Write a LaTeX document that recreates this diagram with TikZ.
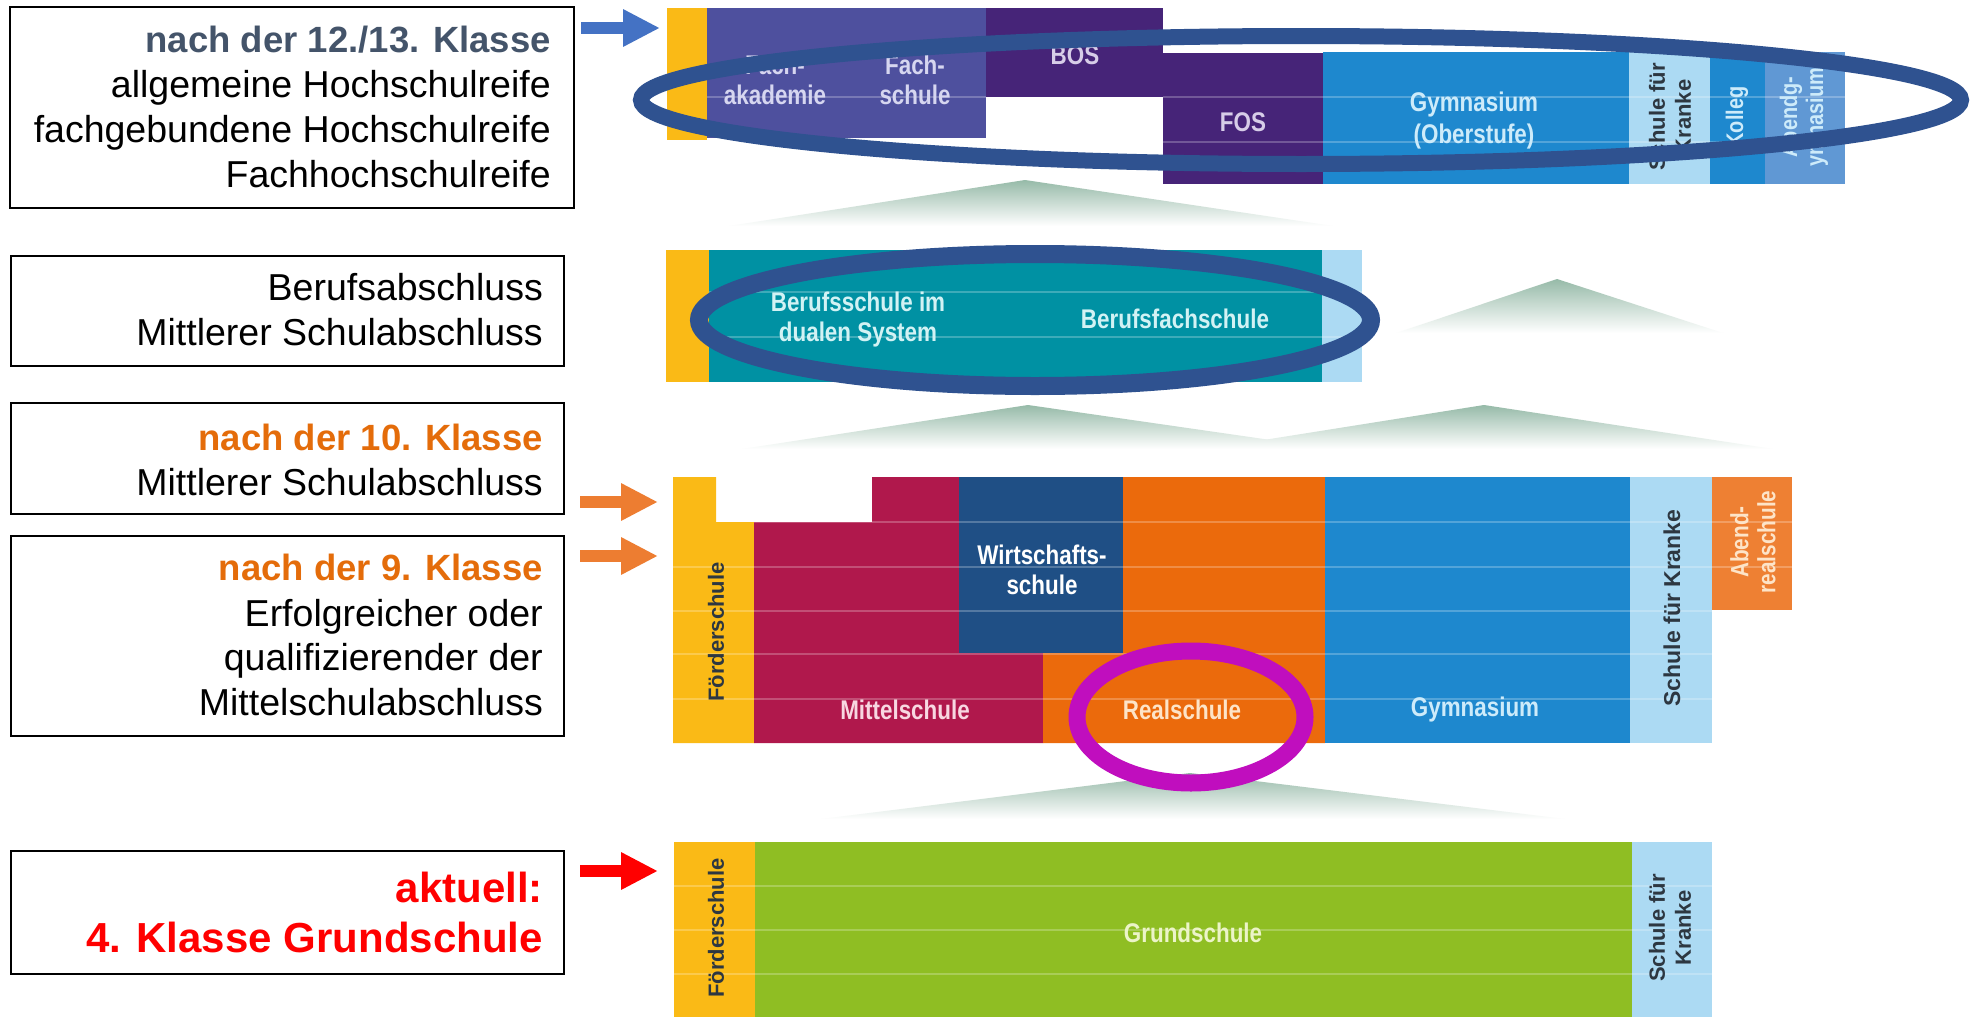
\documentclass[tikz,border=0pt]{standalone}
\usepackage{fontspec}
\setmainfont{Liberation Sans}
\newfontfamily\dfont[FakeStretch=0.83]{Liberation Sans}
\usetikzlibrary{arrows.meta}
\definecolor{cYel}{RGB}{250,186,22}
\definecolor{cLav}{RGB}{78,80,158}
\definecolor{cPur}{RGB}{70,36,120}
\definecolor{cGym}{RGB}{30,136,206}
\definecolor{cLight}{RGB}{172,218,243}
\definecolor{cAbG}{RGB}{96,152,212}
\definecolor{cTeal}{RGB}{0,145,163}
\definecolor{cCrim}{RGB}{176,24,76}
\definecolor{cWirt}{RGB}{31,79,133}
\definecolor{cOra}{RGB}{235,106,12}
\definecolor{cAbR}{RGB}{238,128,51}
\definecolor{cGreen}{RGB}{143,190,35}
\definecolor{ringB}{RGB}{47,82,144}
\definecolor{ringM}{RGB}{192,14,190}
\definecolor{arB}{RGB}{68,114,196}
\definecolor{arO}{RGB}{237,125,49}
\definecolor{arR}{RGB}{255,0,0}
\definecolor{txSlate}{RGB}{68,84,106}
\definecolor{txOra}{RGB}{228,108,10}
\definecolor{triC}{RGB}{150,186,168}
\definecolor{tLav}{RGB}{214,214,240}
\definecolor{tPur}{RGB}{215,205,232}
\definecolor{tGym}{RGB}{205,235,250}
\definecolor{tTeal}{RGB}{210,242,244}
\definecolor{tCrim}{RGB}{248,215,225}
\definecolor{tOra}{RGB}{253,228,200}
\definecolor{tGreen}{RGB}{236,244,200}
\definecolor{tDark}{RGB}{45,55,65}
\tikzset{
 lbox/.style={draw=black, line width=2pt, inner sep=0pt},
 ltext/.style={anchor=base east, inner sep=0pt, font=\fontsize{37.5}{45}\selectfont},
 btext/.style={ltext, font=\bfseries\fontsize{36.5}{45}\selectfont},
 rtext/.style={anchor=base east, inner sep=0pt, text=arR, font=\bfseries\fontsize{42}{50}\selectfont},
 dlab/.style={inner sep=0pt, align=center, font=\dfont\bfseries\fontsize{27}{30}\selectfont},
 slab/.style={inner sep=0pt, align=center, rotate=90, font=\dfont\bfseries\fontsize{24}{26}\selectfont},
 klab/.style={inner sep=0pt, align=center, rotate=90, text=tDark, font=\bfseries\fontsize{22}{26}\selectfont},
 tri/.style={top color=triC, bottom color=white, draw=none},
 ring/.style={draw=ringB, fill=none},
 barrow/.style={line width=12pt, -{Triangle[length=37pt,width=35pt]}},
 rowline/.style={draw=white, draw opacity=0.24, line width=2pt},
}
\begin{document}
\begin{tikzpicture}[x=1pt,y=-1pt]
\useasboundingbox[fill=white] (0,0) rectangle (1972,1017);

% ---------- top block ----------
\fill[cYel] (667,8) rectangle (707,140);
\fill[cLav] (707,8) rectangle (986,138);
\fill[cPur] (986,8) rectangle (1163,97);
\fill[cPur] (1163,53) rectangle (1323,184);
\fill[cGym] (1323,52) rectangle (1629,184);
\fill[cLight] (1629,52) rectangle (1710,184);
\fill[cGym] (1710,52) rectangle (1765,184);
\fill[cAbG] (1765,52) rectangle (1845,184);
\draw[rowline] (707,97) -- (986,97) (1163,97) -- (1845,97) (1163,142) -- (1845,142);

\node[dlab, text=tLav] (nfak) at (775,80) {Fach-\\akademie};
\node[dlab, text=tLav] (nfsch) at (915,80) {Fach-\\schule};
\node[dlab, text=tPur] (nbos) at (1075,55) {BOS};
\node[dlab, text=tPur] (nfos) at (1243,122) {FOS};
\node[dlab, text=tGym, font=\dfont\bfseries\fontsize{27}{32}\selectfont] (ngymo) at (1474,121) {Gymnasium\\(Oberstufe)};
\node[klab] (nkr1) at (1670,117) {Schule für\\Kranke};
\node[slab, text=tGym] (nkol) at (1737,117) {Kolleg};
\node[slab, text=tGym] (nabg) at (1804,117) {Abendg-\\ymnasium};

% ---------- block 2 ----------
\fill[cYel] (666,250) rectangle (709,382);
\fill[cTeal] (709,250) rectangle (1322,382);
\fill[cLight] (1322,250) rectangle (1362,382);
\draw[rowline] (709,292) -- (1362,292) (709,337) -- (1362,337);
\node[dlab, text=tTeal] (nbsd) at (858,320) {Berufsschule im\\dualen System};
\node[dlab, text=tTeal] (nbfs) at (1175,319) {Berufsfachschule};

% ---------- block 3 ----------
\fill[cYel] (673,477) -- (716,477) -- (716,522) -- (754,522) -- (754,743) -- (673,743) -- cycle;
\fill[cCrim] (754,522) -- (872,522) -- (872,477) -- (959,477) -- (959,653) -- (1043,653) -- (1043,743) -- (754,743) -- cycle;
\fill[cWirt] (959,477) rectangle (1123,653);
\fill[cOra] (1123,477) -- (1325,477) -- (1325,743) -- (1043,743) -- (1043,653) -- (1123,653) -- cycle;
\fill[cGym] (1325,477) rectangle (1630,743);
\fill[cLight] (1630,477) rectangle (1712,743);
\fill[cAbR] (1712,477) rectangle (1792,610);
\draw[rowline] (754,522) -- (1712,522) (673,567) -- (1712,567) (673,611) -- (1712,611)
  (673,654) -- (1712,654) (673,699) -- (1712,699) (1712,522) -- (1792,522) (1712,567) -- (1792,567);
\node[klab] (nfoe3) at (716,632) {Förderschule};
\node[dlab, text=white] (nwirt) at (1042,570) {Wirtschafts-\\schule};
\node[dlab, text=tCrim] (nmit) at (905,710) {Mittelschule};
\node[dlab, text=tOra] (nreal) at (1182,710) {Realschule};
\node[dlab, text=tGym] (ngym) at (1475,710) {Gymnasium};
\node[klab, font=\bfseries\fontsize{23}{26}\selectfont] (nkr3) at (1672,608) {Schule für Kranke};
\node[slab, text=tOra, font=\dfont\bfseries\fontsize{25}{27}\selectfont] (nabr) at (1753,542) {Abend-\\realschule};

% ---------- block 4 ----------
\fill[cYel] (674,842) rectangle (755,1017);
\fill[cGreen] (755,842) rectangle (1632,1017);
\fill[cLight] (1632,842) rectangle (1712,1017);
\draw[rowline] (674,886) -- (1712,886) (674,930) -- (1712,930) (674,974) -- (1712,974);
\node[klab] (nfoe4) at (716,928) {Förderschule};
\node[dlab, text=tGreen] (ngru) at (1193,933) {Grundschule};
\node[klab] (nkr4) at (1670,928) {Schule für\\Kranke};

% ---------- transition triangles ----------
\shade[tri] (1025,180) -- (1333,226) -- (729,226) -- cycle;
\shade[tri] (1557,279) -- (1723,333) -- (1396,333) -- cycle;
\shade[tri] (1028,405) -- (1333,449) -- (742,449) -- cycle;
\shade[tri] (1484,405) -- (1773,449) -- (1207,449) -- cycle;
\shade[tri] (1190,773) -- (1565,819) -- (821,819) -- cycle;

% ---------- rings ----------
\draw[ring, line width=16pt] (1301,100) ellipse [x radius=660, y radius=64];
\draw[ring, line width=18pt] (1035,320) ellipse [x radius=336, y radius=66];
\draw[draw=ringM, line width=17pt] (1191,717) ellipse [x radius=114, y radius=66];

% ---------- left boxes ----------
\node[lbox, minimum width=564pt, minimum height=201pt] (b1) at (292,107.5) {};
\node[btext, text=txSlate] (b1a) at (551,52) {nach der 12./13. Klasse};
\node[ltext] (b1b) at (551,97) {allgemeine Hochschulreife};
\node[ltext] (b1c) at (551,142) {fachgebundene Hochschulreife};
\node[ltext] (b1d) at (551,187) {Fachhochschulreife};

\node[lbox, minimum width=553pt, minimum height=110pt] (b2) at (287.5,311) {};
\node[ltext] (b2a) at (543,300) {Berufsabschluss};
\node[ltext] (b2b) at (543,345) {Mittlerer Schulabschluss};

\node[lbox, minimum width=553pt, minimum height=111pt] (b3) at (287.5,458.5) {};
\node[btext, text=txOra] (b3a) at (543,450) {nach der 10. Klasse};
\node[ltext] (b3b) at (543,495) {Mittlerer Schulabschluss};

\node[lbox, minimum width=553pt, minimum height=200pt] (b4) at (287.5,636) {};
\node[btext, text=txOra] (b4a) at (543,580) {nach der 9. Klasse};
\node[ltext] (b4b) at (543,626) {Erfolgreicher oder};
\node[ltext] (b4c) at (543,670) {qualifizierender der};
\node[ltext] (b4d) at (543,715) {Mittelschulabschluss};

\node[lbox, minimum width=553pt, minimum height=123pt] (b5) at (287.5,912.5) {};
\node[rtext] (b5a) at (543,902) {aktuell:};
\node[rtext] (b5b) at (543,952) {4. Klasse Grundschule};

% ---------- arrows ----------
\coordinate (a1s) at (581,28);  \coordinate (a1e) at (660,28);
\coordinate (a2s) at (580,502); \coordinate (a2e) at (658,502);
\coordinate (a3s) at (580,556); \coordinate (a3e) at (658,556);
\coordinate (a4s) at (580,871); \coordinate (a4e) at (658,871);
\draw[barrow, draw=arB, fill=arB] (a1s) -- (a1e);
\draw[barrow, draw=arO, fill=arO] (a2s) -- (a2e);
\draw[barrow, draw=arO, fill=arO] (a3s) -- (a3e);
\draw[barrow, draw=arR, fill=arR] (a4s) -- (a4e);
\end{tikzpicture}
\end{document}
